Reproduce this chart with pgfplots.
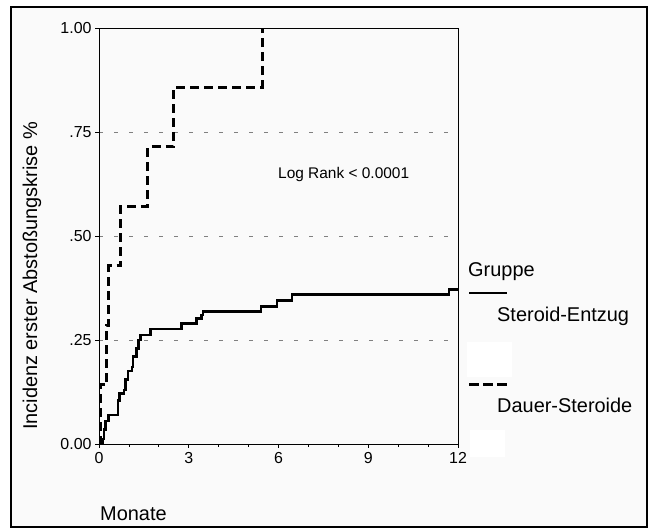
\documentclass[border=0pt]{standalone}
\usepackage{fontspec}
\setmainfont{Liberation Sans}
\usepackage{pgfplots}
\pgfplotsset{compat=1.18}
\begin{document}
\begin{tikzpicture}[x=1bp,y=1bp]
\useasboundingbox (0,0) rectangle (651,532);
\fill[white] (0,0) rectangle (651,532);
\filldraw[fill=black!2, draw=black, line width=2bp] (11,5) rectangle (647,525);
\begin{axis}[
  at={(99bp,88bp)}, anchor=south west,
  scale only axis, width=359bp, height=416bp,
  xmin=0, xmax=12, ymin=0, ymax=1,
  xtick={0,3,6,9,12}, xticklabels={0,3,6,9,12},
  minor xtick={1,2,4,5,7,8,10,11},
  ytick={0,0.25,0.5,0.75,1}, yticklabels={0.00,.25,.50,.75,1.00},
  tick align=outside, tick pos=left,
  major tick length=4bp, minor tick length=3bp,
  ymajorgrids,
  major grid style={gray, line width=0.8bp, dash pattern=on 4bp off 11bp},
  axis line style={line width=0.8bp},
  tick style={black, line width=0.8bp},
  ticklabel style={font=\fontsize{16}{19}\selectfont},
  xticklabel style={yshift=-1bp},
  clip=false,
]
\addplot[const plot, line width=2.6bp] coordinates {
(0,0) (0.12,0.012) (0.17,0.035) (0.21,0.055) (0.31,0.07) (0.63,0.105)
(0.68,0.122) (0.83,0.13) (0.88,0.155) (0.97,0.175) (1.1,0.185) (1.14,0.21)
(1.25,0.23) (1.33,0.25) (1.38,0.262) (1.72,0.276) (2.75,0.29) (3.25,0.302)
(3.42,0.31) (3.48,0.318) (5.42,0.33) (5.95,0.345) (6.45,0.36) (11.7,0.372) (12,0.372)
};
\addplot[const plot, line width=3bp, dash pattern=on 9bp off 5bp] coordinates {
(0,0) (0.04,0.143) (0.26,0.286) (0.33,0.429) (0.73,0.571) (1.63,0.714) (2.5,0.857) (5.45,1.0)
};
\end{axis}
\node[rotate=90, font=\fontsize{20}{24}\selectfont] at (32,256) {Incidenz erster Abstoßungskrise \%};
\node[anchor=base west, inner sep=0, font=\fontsize{20}{24}\selectfont] at (100,11) {Monate};
\node[anchor=base west, inner sep=0, font=\fontsize{15.5}{18}\selectfont] at (278,353) {Log Rank < 0.0001};
\node[anchor=base west, inner sep=0, font=\fontsize{20}{24}\selectfont] at (468,255) {Gruppe};
\draw[line width=2.6bp] (469,239) -- (507,239);
\node[anchor=base west, inner sep=0, font=\fontsize{20}{24}\selectfont] at (497,210) {Steroid-Entzug};
\fill[white] (467,155) rectangle (512,190);
\draw[line width=3bp, dash pattern=on 10bp off 4bp] (469,147) -- (507,147);
\node[anchor=base west, inner sep=0, font=\fontsize{20}{24}\selectfont] at (497,119) {Dauer-Steroide};
\fill[white] (470,75) rectangle (505,102);
\end{tikzpicture}
\end{document}
